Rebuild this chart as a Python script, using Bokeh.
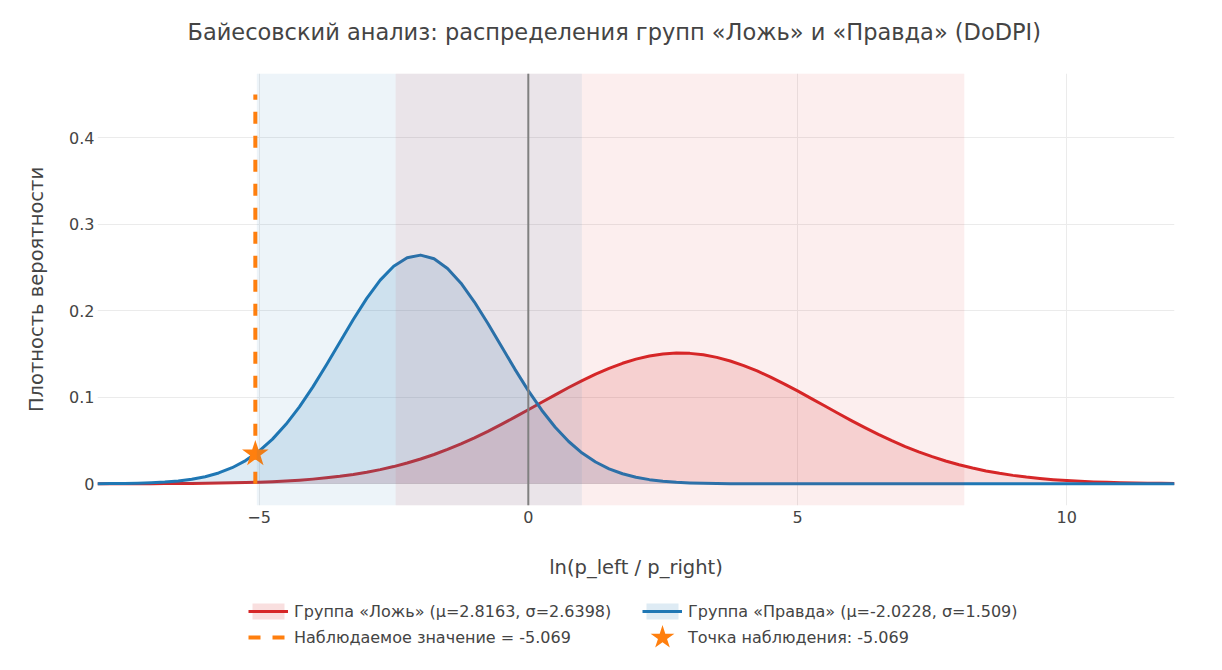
from bokeh.plotting import figure
from bokeh.layouts import column
from bokeh.models import (Span, BoxAnnotation, Legend, LegendItem, FixedTicker,
                          Range1d, CustomJSTickFormatter, Label)
from bokeh.embed import file_html
from bokeh.resources import INLINE

# ---------------- data ----------------
TITLE = "Байесовский анализ: распределения групп «Ложь» и «Правда» (DoDPI)"
X_LABEL = "ln(p_left / p_right)"
Y_LABEL = "Плотность вероятности"

X = [-8.0, -7.75, -7.5, -7.25, -7.0, -6.75, -6.5, -6.25, -6.0, -5.75, -5.5, -5.25,
     -5.0, -4.75, -4.5, -4.25, -4.0, -3.75, -3.5, -3.25, -3.0, -2.75, -2.5, -2.25,
     -2.0, -1.75, -1.5, -1.25, -1.0, -0.75, -0.5, -0.25, 0.0, 0.25, 0.5, 0.75,
     1.0, 1.25, 1.5, 1.75, 2.0, 2.25, 2.5, 2.75, 3.0, 3.25, 3.5, 3.75,
     4.0, 4.25, 4.5, 4.75, 5.0, 5.25, 5.5, 5.75, 6.0, 6.25, 6.5, 6.75,
     7.0, 7.25, 7.5, 7.75, 8.0, 8.25, 8.5, 8.75, 9.0, 9.25, 9.5, 9.75,
     10.0, 10.25, 10.5, 10.75, 11.0, 11.25, 11.5, 11.75, 12.0]

# group "Ложь" density
LIE = [0.00003, 0.00005, 0.00007, 0.00011, 0.00015, 0.00021, 0.00030, 0.00042,
       0.00057, 0.00078, 0.00106, 0.00142, 0.00189, 0.00249, 0.00325, 0.00420,
       0.00539, 0.00685, 0.00863, 0.01078, 0.01334, 0.01636, 0.01989, 0.02396,
       0.02861, 0.03385, 0.03970, 0.04614, 0.05315, 0.06067, 0.06865, 0.07698,
       0.08554, 0.09421, 0.10284, 0.11125, 0.11927, 0.12674, 0.13346, 0.13929,
       0.14407, 0.14769, 0.15005, 0.15108, 0.15076, 0.14910, 0.14615, 0.14197,
       0.13667, 0.13041, 0.12331, 0.11557, 0.10734, 0.09881, 0.09014, 0.08150,
       0.07303, 0.06486, 0.05708, 0.04979, 0.04304, 0.03688, 0.03132, 0.02635,
       0.02198, 0.01817, 0.01488, 0.01209, 0.00972, 0.00775, 0.00613, 0.00480,
       0.00373, 0.00287, 0.00219, 0.00165, 0.00124, 0.00092, 0.00068, 0.00049,
       0.00036]

# group "Правда" density
TRUTH = [0.00010, 0.00020, 0.00036, 0.00066, 0.00115, 0.00196, 0.00324, 0.00523,
         0.00820, 0.01252, 0.01858, 0.02685, 0.03775, 0.05163, 0.06872, 0.08896,
         0.11206, 0.13732, 0.16373, 0.18993, 0.21437, 0.23539, 0.25149, 0.26140,
         0.26435, 0.26009, 0.24898, 0.23189, 0.21012, 0.18524, 0.15889, 0.13259,
         0.10766, 0.08504, 0.06536, 0.04887, 0.03555, 0.02516, 0.01732, 0.01161,
         0.00757, 0.00480, 0.00296, 0.00178, 0.00104, 0.00059, 0.00033, 0.00018,
         0.00009, 0.00005, 0.00002, 0.00001, 0.0, 0.0, 0.0, 0.0,
         0.0, 0.0, 0.0, 0.0, 0.0, 0.0, 0.0, 0.0,
         0.0, 0.0, 0.0, 0.0, 0.0, 0.0, 0.0, 0.0,
         0.0, 0.0, 0.0, 0.0, 0.0, 0.0, 0.0, 0.0,
         0.0]

OBS_X = -5.069
OBS_Y = 0.0345
OBS_LINE_TOP = 0.45

LIE_BAND = [-2.4633, 8.0959]      # mu ± 2 sigma, group "Ложь"
TRUTH_BAND = [-5.0408, 0.9952]    # mu ± 2 sigma, group "Правда"

X_TICKS = [-5, 0, 5, 10]
Y_TICKS = [0, 0.1, 0.2, 0.3, 0.4]

LEGEND_LABELS = ["Группа «Ложь» (μ=2.8163, σ=2.6398)",
                 "Группа «Правда» (μ=-2.0228, σ=1.509)",
                 "Наблюдаемое значение = -5.069",
                 "Точка наблюдения: -5.069"]

# ---------------- style / layout ----------------
FONT = "DejaVu Sans"
TEXT = "#444444"
GRID = "#ebebeb"
RED = "#d62728"
BLUE = "#1f77b4"
ORANGE = "#ff7f0e"

FIG_W = 1206
TITLE_H = 73
MAIN_H = 517
LEG_H = 64
FRAME_L, FRAME_W, FRAME_H = 97, 1077, 432

# ---------------- title strip ----------------
t = figure(width=FIG_W, height=TITLE_H, output_backend="svg", toolbar_location=None,
           x_range=Range1d(0, FRAME_W), y_range=Range1d(0, TITLE_H),
           x_axis_location=None, y_axis_location=None, min_border=0)
t.outline_line_color = None
t.xgrid.visible = False
t.ygrid.visible = False
t.background_fill_color = "white"
t.border_fill_color = "white"
t.add_layout(Label(x=187 - FRAME_L, y=TITLE_H - 31.5, text=TITLE,
                   text_align="left", text_baseline="middle",
                   text_font=FONT, text_font_size="22.5px", text_color=TEXT))

# ---------------- main plot ----------------
p = figure(width=FIG_W, height=MAIN_H, output_backend="svg", toolbar_location=None,
           x_range=Range1d(-8, 12), y_range=Range1d(-0.0251, 0.4743),
           min_border_left=FRAME_L, min_border_right=FIG_W - FRAME_L - FRAME_W,
           min_border_top=0, min_border_bottom=MAIN_H - FRAME_H)
try:
    p.title = None
except Exception:
    p.title.visible = False
p.outline_line_color = None
p.background_fill_color = "white"
p.border_fill_color = "white"

zeros = [0.0] * len(X)
r_fill = p.varea(x=X, y1=zeros, y2=LIE, fill_color=RED, fill_alpha=0.15)
r_line = p.line(X, LIE, line_color=RED, line_width=3, line_join="round")
b_fill = p.varea(x=X, y1=zeros, y2=TRUTH, fill_color=BLUE, fill_alpha=0.15)
b_line = p.line(X, TRUTH, line_color=BLUE, line_width=3, line_join="round")
o_line = p.line([OBS_X, OBS_X], [0, OBS_LINE_TOP], line_color=ORANGE,
                line_width=4, line_dash="12 12")
o_star = p.scatter([OBS_X], [OBS_Y], marker="star", size=28,
                   fill_color=ORANGE, line_color=ORANGE, line_width=0)

p.add_layout(BoxAnnotation(left=LIE_BAND[0], right=LIE_BAND[1],
                           fill_color=RED, fill_alpha=0.08, line_color=None))
p.add_layout(BoxAnnotation(left=TRUTH_BAND[0], right=TRUTH_BAND[1],
                           fill_color=BLUE, fill_alpha=0.08, line_color=None))
p.add_layout(Span(location=0, dimension="height", line_color="#808080",
                  line_width=2))

p.xaxis.ticker = FixedTicker(ticks=X_TICKS)
p.yaxis.ticker = FixedTicker(ticks=Y_TICKS)
p.xaxis.formatter = CustomJSTickFormatter(
    code="return tick < 0 ? '\u2212' + Math.abs(tick) : String(tick);")
p.yaxis.formatter = CustomJSTickFormatter(
    code="return tick === 0 ? '0' : tick.toFixed(1);")

for ax in (p.xaxis[0], p.yaxis[0]):
    ax.axis_line_color = None
    ax.major_tick_line_color = None
    ax.minor_tick_line_color = None
    ax.major_tick_out = 0
    ax.major_tick_in = 0
    ax.minor_tick_out = 0
    ax.major_label_text_font = FONT
    ax.major_label_text_font_size = "16px"
    ax.major_label_text_color = TEXT
    ax.axis_label_text_font = FONT
    ax.axis_label_text_font_size = "19.5px"
    ax.axis_label_text_font_style = "normal"
    ax.axis_label_text_color = TEXT

p.xaxis.axis_label = X_LABEL
p.yaxis.axis_label = Y_LABEL
p.xaxis.major_label_standoff = 5
p.yaxis.major_label_standoff = 3
p.xaxis.axis_label_standoff = 30
p.yaxis.axis_label_standoff = 18

p.xgrid.grid_line_color = GRID
p.ygrid.grid_line_color = GRID
p.xgrid.grid_line_width = 1
p.ygrid.grid_line_width = 1

# ---------------- legend strip (separate figure below the plot) ----------------
# its frame is aligned with the main frame (left edge at FRAME_L), ranges in pixels
q = figure(width=FIG_W, height=LEG_H, output_backend="svg", toolbar_location=None,
           x_range=Range1d(0, FRAME_W), y_range=Range1d(0, LEG_H),
           x_axis_location=None, y_axis_location=None, min_border=0)
q.outline_line_color = None
q.xgrid.visible = False
q.ygrid.visible = False
q.background_fill_color = "white"
q.border_fill_color = "white"

COL1_X = 248 - FRAME_L
COL2_X = 642 - FRAME_L
LEG_BOTTOM = 7
GLYPH_W, GLYPH_H, SPACING = 40, 20, 6

# stand-in renderers (outside the visible range) carrying the legend styles
off = [-50.0, -40.0]
lr_fill = q.varea(x=off, y1=[0, 0], y2=[1, 1], fill_color=RED, fill_alpha=0.15)
lr_line = q.line(off, [0.5, 0.5], line_color=RED, line_width=3)
lb_fill = q.varea(x=off, y1=[0, 0], y2=[1, 1], fill_color=BLUE, fill_alpha=0.15)
lb_line = q.line(off, [0.5, 0.5], line_color=BLUE, line_width=3)
lo_line = q.line(off, [0.5, 0.5], line_color=ORANGE, line_width=4, line_dash="12 12")
lo_blank = q.scatter([-50.0], [0.5], marker="star", size=1,
                     fill_alpha=0, line_alpha=0)
# legend key for the star marker, drawn at full size in the key slot
q.scatter([COL2_X + GLYPH_W / 2], [LEG_BOTTOM + GLYPH_H / 2], marker="star", size=25,
          fill_color=ORANGE, line_color=ORANGE, line_width=0)


def make_legend(items, loc):
    return Legend(items=items, location=loc, orientation="vertical",
                  glyph_width=GLYPH_W, glyph_height=GLYPH_H, label_standoff=6,
                  spacing=SPACING, padding=0, margin=0, border_line_color=None,
                  background_fill_alpha=0.0,
                  label_text_font=FONT, label_text_font_size="16px",
                  label_text_color=TEXT)


leg_a = make_legend([LegendItem(label=LEGEND_LABELS[0], renderers=[lr_fill, lr_line]),
                     LegendItem(label=LEGEND_LABELS[2], renderers=[lo_line])],
                    (COL1_X, LEG_BOTTOM))
leg_b = make_legend([LegendItem(label=LEGEND_LABELS[1], renderers=[lb_fill, lb_line]),
                     LegendItem(label=LEGEND_LABELS[3], renderers=[lo_blank])],
                    (COL2_X, LEG_BOTTOM))
q.add_layout(leg_a, "center")
q.add_layout(leg_b, "center")

layout = column(t, p, q, spacing=0)
open("out.html", "w").write(file_html(layout, INLINE))
